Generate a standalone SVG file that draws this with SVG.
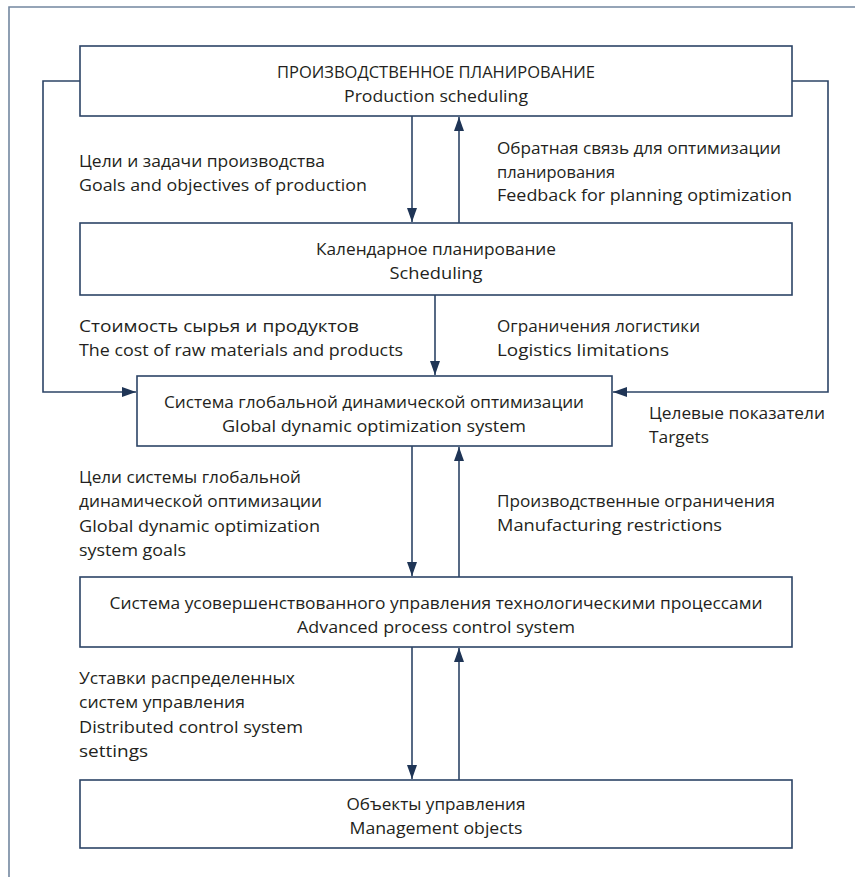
<svg xmlns="http://www.w3.org/2000/svg" width="855" height="877" viewBox="0 0 855 877">
  <style>
    .frame { fill: none; stroke: #7387a0; stroke-width: 1.6; }
    .box { fill: #ffffff; stroke: #2c4466; stroke-width: 1.6; }
    .line { fill: none; stroke: #2c4466; stroke-width: 1.6; }
    .arrow { fill: none; stroke: #2c4466; stroke-width: 1.6; marker-end: url(#head); }
    text { font-family: "Open Sans", "Noto Sans", "Liberation Sans", sans-serif; fill: #231f20; font-size: 17px; }
    .c { text-anchor: middle; }
  </style>
  <defs>
    <marker id="head" markerUnits="userSpaceOnUse" markerWidth="15" markerHeight="11" refX="14" refY="5" orient="auto">
      <path d="M0,0 L14,5 L0,10 z" fill="#1f3556"/>
    </marker>
  </defs>

  <rect width="855" height="877" fill="#ffffff"/>

  <!-- outer frame: open to the right and bottom -->
  <path class="frame" d="M9,877 L9,7 L855,7"/>

  <g id="connectors">
    <!-- side loops feeding the global optimization system -->
    <path class="arrow" d="M80,81 L43,81 L43,392 L136,392"/>
    <path class="arrow" d="M792,81 L828,81 L828,392 L613,392"/>
    <!-- production scheduling <-> scheduling -->
    <path class="arrow" d="M412,116 L412,222"/>
    <path class="arrow" d="M459,223 L459,117"/>
    <!-- scheduling -> global optimization -->
    <path class="arrow" d="M435,295 L435,375"/>
    <!-- global optimization <-> advanced process control -->
    <path class="arrow" d="M412,446 L412,576"/>
    <path class="arrow" d="M459,577 L459,447"/>
    <!-- advanced process control <-> management objects -->
    <path class="arrow" d="M412,647 L412,779"/>
    <path class="arrow" d="M459,780 L459,648"/>
  </g>

  <g id="production-planning">
    <rect class="box" x="80" y="46" width="712" height="70"/>
    <text class="c" x="436" y="78" textLength="318" lengthAdjust="spacingAndGlyphs">ПРОИЗВОДСТВЕННОЕ ПЛАНИРОВАНИЕ</text>
    <text class="c" x="436" y="102" textLength="184" lengthAdjust="spacingAndGlyphs">Production scheduling</text>
  </g>

  <g id="scheduling">
    <rect class="box" x="80" y="223" width="712" height="72"/>
    <text class="c" x="436" y="255" textLength="240" lengthAdjust="spacingAndGlyphs">Календарное планирование</text>
    <text class="c" x="436" y="279" textLength="93" lengthAdjust="spacingAndGlyphs">Scheduling</text>
  </g>

  <g id="global-optimization">
    <rect class="box" x="137" y="376" width="475" height="70"/>
    <text class="c" x="374" y="408" textLength="420" lengthAdjust="spacingAndGlyphs">Система глобальной динамической оптимизации</text>
    <text class="c" x="374" y="432" textLength="304" lengthAdjust="spacingAndGlyphs">Global dynamic optimization system</text>
  </g>

  <g id="process-control">
    <rect class="box" x="80" y="577" width="712" height="70"/>
    <text class="c" x="436" y="609" textLength="653" lengthAdjust="spacingAndGlyphs">Система усовершенствованного управления технологическими процессами</text>
    <text class="c" x="436" y="633" textLength="278" lengthAdjust="spacingAndGlyphs">Advanced process control system</text>
  </g>

  <g id="management-objects">
    <rect class="box" x="80" y="780" width="712" height="68"/>
    <text class="c" x="436" y="810" textLength="179" lengthAdjust="spacingAndGlyphs">Объекты управления</text>
    <text class="c" x="436" y="834" textLength="173" lengthAdjust="spacingAndGlyphs">Management objects</text>
  </g>

  <g id="labels">
    <text x="79" y="167" textLength="246" lengthAdjust="spacingAndGlyphs">Цели и задачи производства</text>
    <text x="79" y="191" textLength="288" lengthAdjust="spacingAndGlyphs">Goals and objectives of production</text>

    <text x="497" y="154" textLength="284" lengthAdjust="spacingAndGlyphs">Обратная связь для оптимизации</text>
    <text x="497" y="178" textLength="118" lengthAdjust="spacingAndGlyphs">планирования</text>
    <text x="497" y="201" textLength="295" lengthAdjust="spacingAndGlyphs">Feedback for planning optimization</text>

    <text x="79" y="332" textLength="280" lengthAdjust="spacingAndGlyphs">Стоимость сырья и продуктов</text>
    <text x="79" y="356" textLength="324" lengthAdjust="spacingAndGlyphs">The cost of raw materials and products</text>

    <text x="497" y="332" textLength="203" lengthAdjust="spacingAndGlyphs">Ограничения логистики</text>
    <text x="497" y="356" textLength="172" lengthAdjust="spacingAndGlyphs">Logistics limitations</text>

    <text x="649" y="419" textLength="176" lengthAdjust="spacingAndGlyphs">Целевые показатели</text>
    <text x="649" y="443" textLength="60" lengthAdjust="spacingAndGlyphs">Targets</text>

    <text x="79" y="483" textLength="222" lengthAdjust="spacingAndGlyphs">Цели системы глобальной</text>
    <text x="79" y="507" textLength="243" lengthAdjust="spacingAndGlyphs">динамической оптимизации</text>
    <text x="79" y="532" textLength="241" lengthAdjust="spacingAndGlyphs">Global dynamic optimization</text>
    <text x="79" y="556" textLength="107" lengthAdjust="spacingAndGlyphs">system goals</text>

    <text x="497" y="507" textLength="278" lengthAdjust="spacingAndGlyphs">Производственные ограничения</text>
    <text x="497" y="531" textLength="225" lengthAdjust="spacingAndGlyphs">Manufacturing restrictions</text>

    <text x="79" y="684" textLength="216" lengthAdjust="spacingAndGlyphs">Уставки распределенных</text>
    <text x="79" y="708" textLength="166" lengthAdjust="spacingAndGlyphs">систем управления</text>
    <text x="79" y="733" textLength="224" lengthAdjust="spacingAndGlyphs">Distributed control system</text>
    <text x="79" y="757" textLength="69" lengthAdjust="spacingAndGlyphs">settings</text>
  </g>
</svg>
